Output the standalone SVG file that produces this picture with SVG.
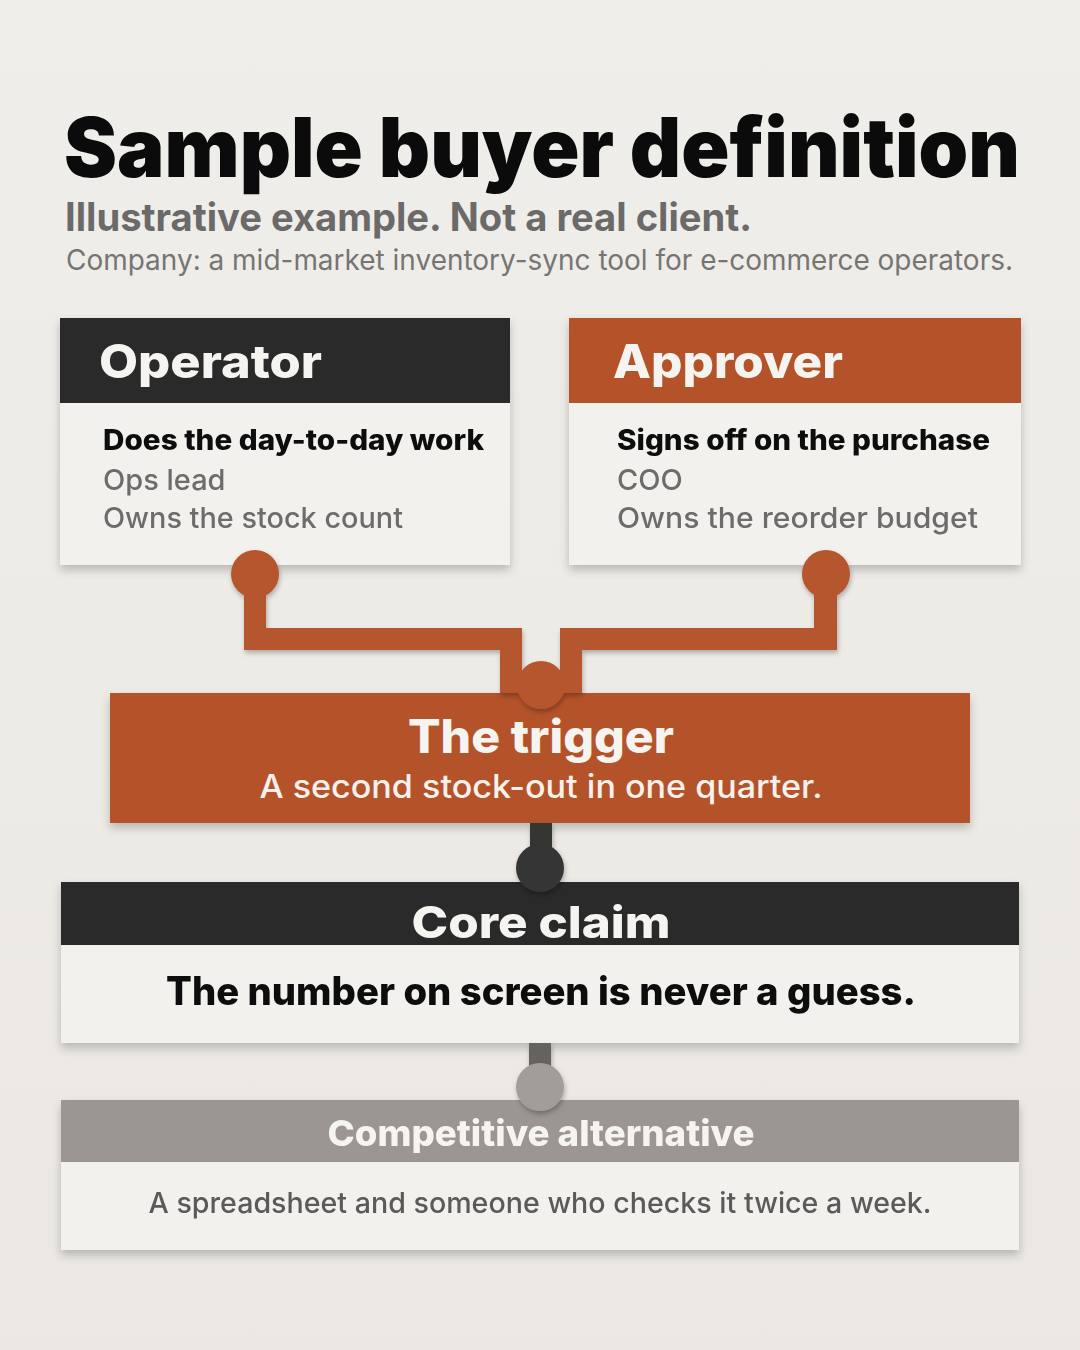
<svg xmlns="http://www.w3.org/2000/svg" width="1080" height="1350" viewBox="0 0 1080 1350">
<defs>
<filter id="sh" x="-10%" y="-10%" width="120%" height="140%">
<feDropShadow dx="0" dy="5" stdDeviation="5" flood-color="#000" flood-opacity="0.22"/>
</filter>
<filter id="shs" x="-30%" y="-30%" width="160%" height="160%">
<feDropShadow dx="1" dy="3" stdDeviation="2.5" flood-color="#000" flood-opacity="0.28"/>
</filter>
<linearGradient id="bg" x1="0" y1="0" x2="0" y2="1">
<stop offset="0" stop-color="#f0eeea"/>
<stop offset="1" stop-color="#ebe8e3"/>
</linearGradient>
</defs>
<style>
.t{font-family:Inter,"Liberation Sans",sans-serif}
.h{font-family:Inter,"Liberation Sans",sans-serif;font-weight:800;fill:#f6f4f0}
.body{fill:#f3f1ed}
.dark{fill:#2c2b2a}
.rust{fill:#b4532b}
.grey{fill:#9b9691}
.pipe{fill:#b5562d}
.b{font-weight:800;fill:#0e0e0e}
.g{font-weight:500;fill:#6e6c6a}
</style>
<rect width="1080" height="1350" fill="url(#bg)"/>

<g id="title">
<text class="t" x="64" y="177" font-size="82" font-weight="900" fill="#0b0b0b" textLength="956" lengthAdjust="spacingAndGlyphs">Sample buyer definition</text>
<text class="t" x="65" y="231" font-size="39" font-weight="700" fill="#6b6a69" textLength="687" lengthAdjust="spacingAndGlyphs">Illustrative example. Not a real client.</text>
<text class="t" x="66" y="270" font-size="28" font-weight="400" fill="#777573" textLength="947" lengthAdjust="spacingAndGlyphs">Company: a mid-market inventory-sync tool for e-commerce operators.</text>
</g>

<g id="operator" filter="url(#sh)">
<rect class="body" x="60" y="318" width="450" height="247"/>
<rect class="dark" x="60" y="318" width="450" height="85"/>
<text class="h" x="99" y="378" font-size="46" textLength="223" lengthAdjust="spacingAndGlyphs">Operator</text>
<text class="t b" x="103" y="450" font-size="28" textLength="381" lengthAdjust="spacingAndGlyphs">Does the day-to-day work</text>
<text class="t g" x="103" y="490" font-size="29">Ops lead</text>
<text class="t g" x="103" y="528" font-size="29" textLength="300" lengthAdjust="spacingAndGlyphs">Owns the stock count</text>
</g>

<g id="approver" filter="url(#sh)">
<rect class="body" x="569" y="318" width="452" height="247"/>
<rect class="rust" x="569" y="318" width="452" height="85"/>
<text class="h" x="613" y="378" font-size="46" textLength="230" lengthAdjust="spacingAndGlyphs">Approver</text>
<text class="t b" x="617" y="450" font-size="28" textLength="373" lengthAdjust="spacingAndGlyphs">Signs off on the purchase</text>
<text class="t g" x="617" y="490" font-size="29">COO</text>
<text class="t g" x="617" y="528" font-size="29" textLength="361" lengthAdjust="spacingAndGlyphs">Owns the reorder budget</text>
</g>

<g id="trigger">
<rect class="rust" x="110" y="693" width="860" height="130" filter="url(#sh)"/>
<text class="h" x="541" y="753" font-size="46" text-anchor="middle" textLength="266" lengthAdjust="spacingAndGlyphs">The trigger</text>
<text class="t" x="541" y="798" font-size="32" font-weight="500" fill="#f6f1ec" text-anchor="middle" textLength="563" lengthAdjust="spacingAndGlyphs">A second stock-out in one quarter.</text>
</g>

<g id="core-claim" filter="url(#sh)">
<rect class="body" x="61" y="882" width="958" height="161"/>
<rect class="dark" x="61" y="882" width="958" height="63"/>
<text class="h" x="541" y="938" font-size="44" text-anchor="middle" textLength="259" lengthAdjust="spacingAndGlyphs">Core claim</text>
<text class="t b" x="541" y="1005" font-size="39" text-anchor="middle" textLength="750" lengthAdjust="spacingAndGlyphs">The number on screen is never a guess.</text>
</g>

<g id="competitive-alternative" filter="url(#sh)">
<rect class="body" x="61" y="1100" width="958" height="150"/>
<rect class="grey" x="61" y="1100" width="958" height="62"/>
<text class="h" x="541" y="1146" font-size="36" text-anchor="middle" textLength="427" lengthAdjust="spacingAndGlyphs">Competitive alternative</text>
<text class="t" x="540" y="1213" font-size="29" font-weight="500" fill="#5c5a58" text-anchor="middle" textLength="783" lengthAdjust="spacingAndGlyphs">A spreadsheet and someone who checks it twice a week.</text>
</g>

<g id="connectors" filter="url(#shs)">
<path class="pipe" d="M244 575 H266 V628 H522 V693 H500 V650 H244 Z"/>
<path class="pipe" d="M814 575 H837 V650 H582 V693 H560 V628 H814 Z"/>
<circle class="pipe" cx="255" cy="574" r="24"/>
<circle class="pipe" cx="826" cy="574" r="24"/>
<circle class="pipe" cx="541" cy="685" r="24"/>
<rect x="530" y="823" width="22" height="50" fill="#353433"/>
<circle cx="540" cy="868" r="24" fill="#363534"/>
<rect x="529" y="1043" width="22" height="40" fill="#66625f"/>
<circle cx="540" cy="1087" r="24" fill="#a29d98"/>
</g>
</svg>
